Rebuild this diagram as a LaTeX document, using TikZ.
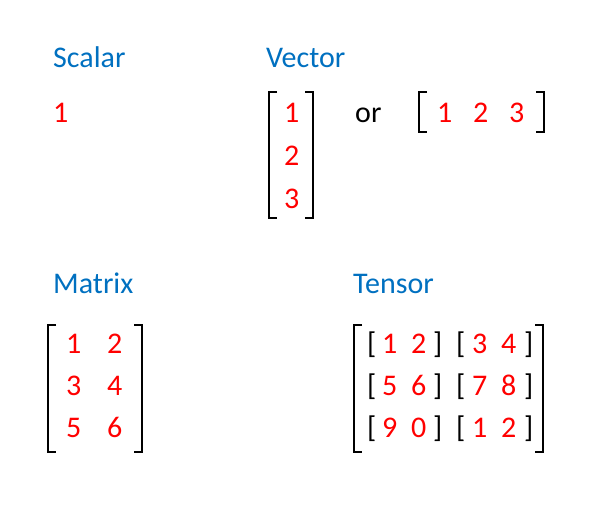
\documentclass[tikz,border=0pt]{standalone}
\usepackage{fontspec}
\setmainfont{Carlito}
\definecolor{titleblue}{RGB}{0,112,192}
\definecolor{numred}{RGB}{255,0,0}
\tikzset{
  title/.style={anchor=base west, inner sep=0pt, text=titleblue, font=\fontsize{30}{36}\selectfont},
  num/.style={anchor=base west, inner sep=0pt, text=numred, font=\fontsize{30}{36}\selectfont},
  word/.style={anchor=base west, inner sep=0pt, text=black, font=\fontsize{30}{36}\selectfont},
  brk/.style={draw=black, line width=2pt, line cap=butt, line join=miter}
}
\begin{document}
\begin{tikzpicture}[x=1pt,y=-1pt]
\useasboundingbox (0,0) rectangle (602,509);
% Titles
\node[title] (tscalar) at (53,67) {Scalar};
\node[title] (tvector) at (266,67) {Vector};
\node[title] (tmatrix) at (53,293) {Matrix};
\node[title] (ttensor) at (353,293) {Tensor};
% Scalar
\node[num] (s1) at (53,122) {1};
% Vector column
\draw[brk] (277,92) -- (269,92) -- (269,218) -- (277,218);
\draw[brk] (305,92) -- (313,92) -- (313,218) -- (305,218);
\node[num] (v1) at (284,122) {1};
\node[num] (v2) at (284,165) {2};
\node[num] (v3) at (284,208) {3};
\node[word] (or) at (355,122) {or};
% Vector row
\draw[brk] (427,92) -- (419,92) -- (419,132) -- (427,132);
\draw[brk] (536,92) -- (544,92) -- (544,132) -- (536,132);
\node[num] (r1) at (437,122) {1};
\node[num] (r2) at (473,122) {2};
\node[num] (r3) at (509,122) {3};
% Matrix
\draw[brk] (56,325) -- (48,325) -- (48,452) -- (56,452);
\draw[brk] (134,325) -- (142,325) -- (142,452) -- (134,452);
\node[num] (m11) at (66,353) {1};
\node[num] (m12) at (107,353) {2};
\node[num] (m21) at (66,395) {3};
\node[num] (m22) at (107,395) {4};
\node[num] (m31) at (66,437) {5};
\node[num] (m32) at (107,437) {6};
% Tensor
\draw[brk] (362,325) -- (354,325) -- (354,452) -- (362,452);
\draw[brk] (535,325) -- (543,325) -- (543,452) -- (535,452);
\foreach \y/\a/\b/\c/\d [count=\i] in {353/1/2/3/4, 395/5/6/7/8, 437/9/0/1/2}{
  \node[word] (tl\i) at (367,\y) {[};
  \node[num] (ta\i) at (382,\y) {\a};
  \node[num] (tb\i) at (411,\y) {\b};
  \node[word] (tr\i) at (433,\y) {]};
  \node[word] (ul\i) at (456,\y) {[};
  \node[num] (tc\i) at (472,\y) {\c};
  \node[num] (td\i) at (501,\y) {\d};
  \node[word] (ur\i) at (524,\y) {]};
}
\end{tikzpicture}
\end{document}
